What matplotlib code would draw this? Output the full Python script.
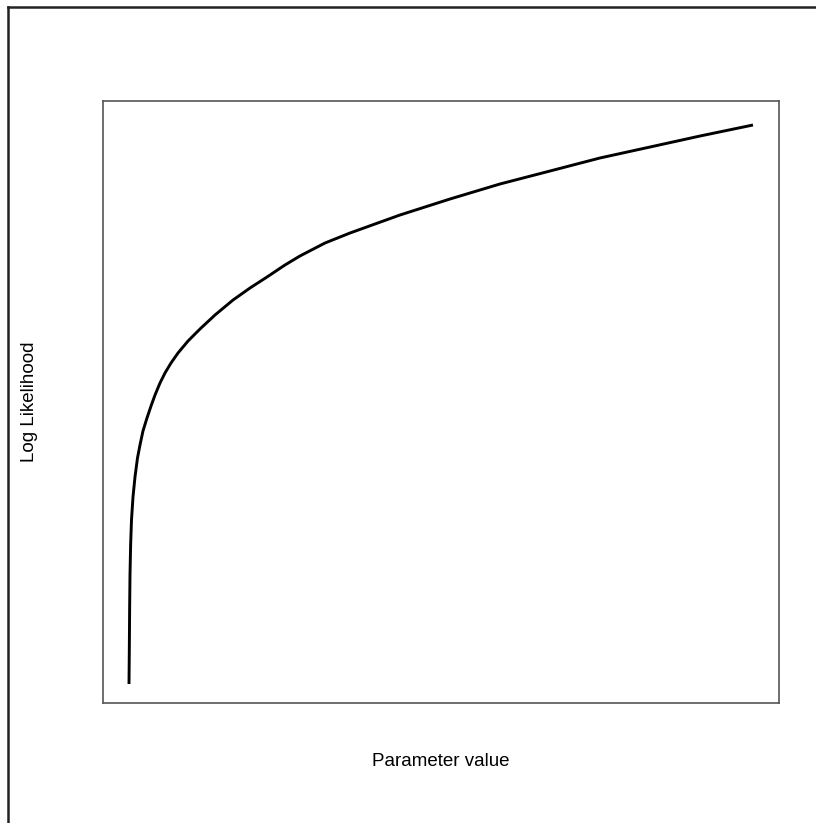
import numpy as np
import matplotlib.pyplot as plt
from matplotlib.lines import Line2D

plt.rcParams['font.family'] = ['Liberation Sans', 'DejaVu Sans']

# curve (arbitrary units, no ticks shown)
param = [0.0000, 0.0005, 0.0010, 0.0016, 0.0026, 0.0040, 0.0064, 0.0096,
         0.0136, 0.0176, 0.0224, 0.0288, 0.0353, 0.0417, 0.0497, 0.0577,
         0.0673, 0.0785, 0.0946, 0.1138, 0.1378, 0.1667, 0.1939, 0.2212,
         0.2500, 0.2740, 0.3141, 0.3542, 0.3942, 0.4343, 0.5144, 0.5946,
         0.6747, 0.7548, 0.8349, 0.9151, 1.0000]
loglik = [0.0000, 0.0608, 0.1324, 0.1950, 0.2487, 0.2934, 0.3345, 0.3703,
          0.4043, 0.4275, 0.4526, 0.4758, 0.4973, 0.5170, 0.5385, 0.5564,
          0.5742, 0.5921, 0.6136, 0.6351, 0.6601, 0.6869, 0.7084, 0.7281,
          0.7496, 0.7657, 0.7889, 0.8068, 0.8229, 0.8390, 0.8676, 0.8945,
          0.9177, 0.9410, 0.9606, 0.9803, 1.0000]

W, H = 816, 823
fig = plt.figure(figsize=(W / 100, H / 100), dpi=100)
fig.patch.set_facecolor('white')

ax = fig.add_axes([103 / W, 1 - 703 / H, 676 / W, 602 / H])
ax.plot(param, loglik, color='black', lw=2.1, solid_capstyle='butt',
        solid_joinstyle='round')
ax.set_xlim(-26 / 624, 650 / 624)
ax.set_ylim(-19 / 559, 583 / 559)
ax.set_xticks([])
ax.set_yticks([])
for s in ax.spines.values():
    s.set_color('#555555')
    s.set_linewidth(1.2)

fig.text(30 / W, 1 - 402 / H, 'Log Likelihood', rotation=90,
         ha='center', va='center', fontsize=13.5)
fig.text(441 / W, 1 - 762 / H, 'Parameter value',
         ha='center', va='center', fontsize=13.5)

# outer frame (only top and left edges show)
fig.add_artist(Line2D([8 / W, 1], [1 - 7 / H] * 2, color='#222222', lw=1.8))
fig.add_artist(Line2D([8 / W] * 2, [0, 1 - 7 / H], color='#222222', lw=1.8))

fig.savefig('out.png', dpi=100)
